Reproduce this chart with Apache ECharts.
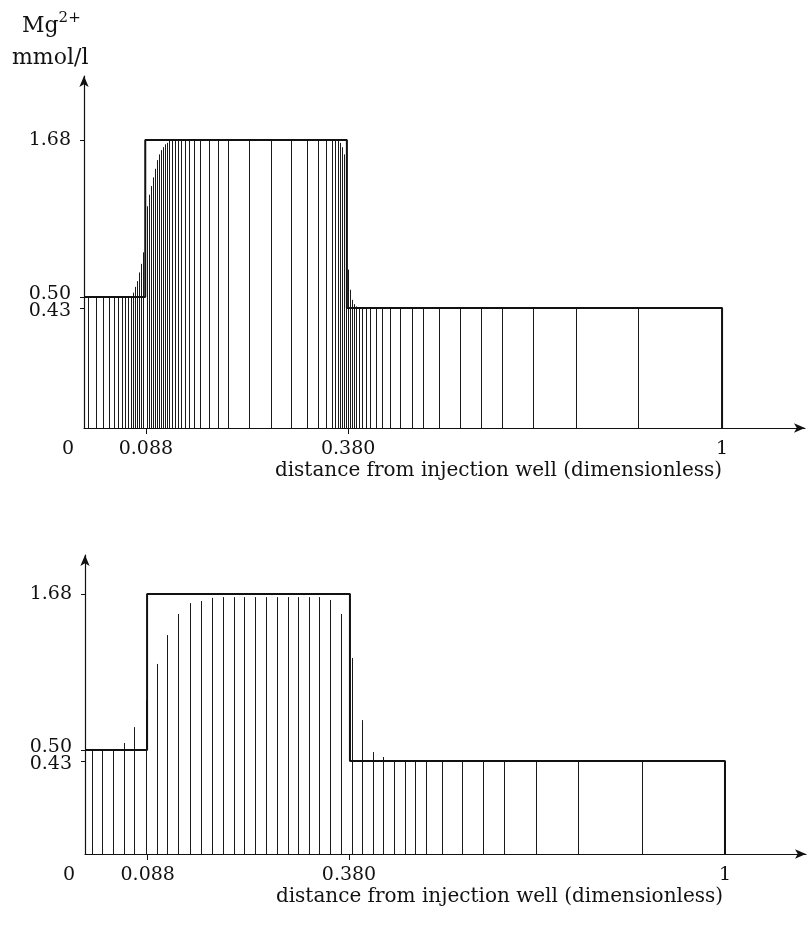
<!DOCTYPE html>
<html>
<head>
<meta charset="utf-8">
<script src="https://cdn.jsdelivr.net/npm/echarts@6/dist/echarts.min.js"></script>
<style>
  html, body { margin: 0; padding: 0; background: #fff; }
  #chart { width: 809px; height: 941px; }
</style>
</head>
<body>
<div id="chart"></div>
<script>
// node positions along the drawn axis (1 = the "1" tick) and node values
// (1 = the 1.68 level); the original axes are not to scale
var xTop = [0.006, 0.019, 0.030, 0.039, 0.047, 0.053, 0.060, 0.064, 0.069, 0.074,
  0.077, 0.080, 0.083, 0.086, 0.089, 0.092,
  0.099, 0.102, 0.105, 0.108, 0.111, 0.114, 0.118, 0.121, 0.124, 0.127, 0.130, 0.133,
  0.138, 0.143, 0.147, 0.152, 0.158, 0.165, 0.172, 0.182, 0.196, 0.210, 0.226, 0.259,
  0.293, 0.324, 0.350, 0.367, 0.379, 0.389, 0.393, 0.398,
  0.401, 0.404, 0.408, 0.411,
  0.414, 0.417, 0.420, 0.423, 0.426,
  0.431, 0.436, 0.442, 0.448, 0.458, 0.467, 0.480, 0.495, 0.514, 0.531, 0.556, 0.589,
  0.622, 0.655, 0.704, 0.771, 0.868, 1.0]
var yTop = [0.455, 0.455, 0.455, 0.455, 0.455, 0.455, 0.455, 0.455, 0.455, 0.455,
  0.47, 0.49, 0.51, 0.54, 0.57, 0.61,
  0.77, 0.81, 0.84, 0.87, 0.90, 0.93, 0.95, 0.965, 0.975, 0.985, 0.99, 0.997,
  1, 1, 1, 1, 1, 1, 1, 1, 1, 1, 1, 1,
  1, 1, 1, 1, 1, 1, 1, 1,
  0.99, 0.975, 0.95, 0.91,
  0.55, 0.48, 0.445, 0.43, 0.422,
  0.417, 0.417, 0.417, 0.417, 0.417, 0.417, 0.417, 0.417, 0.417, 0.417, 0.417, 0.417,
  0.417, 0.417, 0.417, 0.417, 0.417, 0.417]

var xBottom = [0.011, 0.027, 0.044, 0.061, 0.077, 0.095, 0.113, 0.128, 0.145, 0.164,
  0.181, 0.198, 0.216, 0.233, 0.248, 0.266, 0.283, 0.300, 0.317, 0.333,
  0.350, 0.366, 0.383, 0.400, 0.417, 0.433, 0.450, 0.466, 0.483, 0.500,
  0.516, 0.533, 0.558, 0.589, 0.622, 0.655, 0.705, 0.770, 0.870, 1.0]
var yBottom = [0.40, 0.40, 0.40, 0.427, 0.488, 0.592, 0.731, 0.842, 0.923, 0.965,
  0.973, 0.985, 0.988, 0.988, 0.988, 0.988, 0.988, 0.988, 0.988, 0.988,
  0.988, 0.988, 0.977, 0.923, 0.754, 0.515, 0.392, 0.373, 0.358, 0.358,
  0.358, 0.358, 0.358, 0.358, 0.358, 0.358, 0.358, 0.358, 0.358, 0.358]

// analytic step solution
var stepTopX = [0, 0.096, 0.096, 0.412, 0.412, 1, 1]
var stepTopY = [0.455, 0.455, 1, 1, 0.417, 0.417, 0]
var stepBottomX = [0, 0.097, 0.097, 0.414, 0.414, 1, 1]
var stepBottomY = [0.40, 0.40, 1, 1, 0.358, 0.358, 0]

// tick labels
var xTickTop = [0, 0.097, 0.414, 1]
var xTickBottom = [0, 0.098, 0.4125, 1]
var xTickLabels = ['0', '0.088', '0.380', '1']
var yTickTop = [0.417, 0.455, 1]
var yTickBottom = [0.358, 0.40, 1]
var yTickLabels = ['0.43', '0.50', '1.68']

var font = 'DejaVu Serif'
var ink = '#111'
var fs = 19

function pick(list, labels, v) {
  for (var i = 0; i < list.length; i++) {
    if (Math.abs(list[i] - v) < 1e-6) return labels[i]
  }
  return ''
}

function pairs(xs, ys) {
  return xs.map(function (x, i) { return [x, ys[i]] })
}

function needle(params, api) {
  var p0 = api.coord([api.value(0), 0])
  var p1 = api.coord([api.value(0), api.value(1)])
  var x = Math.round(p0[0]) + 0.5
  return {
    type: 'line',
    shape: { x1: x, y1: p0[1], x2: x, y2: p1[1] },
    style: { stroke: '#1a1a1a', lineWidth: 1 }
  }
}

function xAxisOf(idx, max, ticks) {
  return {
    type: 'value', gridIndex: idx, min: 0, max: max,
    name: 'distance from injection well (dimensionless)',
    nameLocation: 'middle', nameGap: 33,
    nameTextStyle: { fontFamily: font, fontSize: 20, color: ink, padding: [0, 0, 0, 108] },
    axisLine: { show: true, symbol: ['none', 'arrow'], symbolSize: [7, 11], lineStyle: { color: ink, width: 1.2 } },
    axisTick: { show: true, inside: false, length: 6, customValues: [ticks[1], ticks[2]], lineStyle: { color: ink } },
    axisLabel: {
      customValues: ticks, margin: 12, color: ink, fontFamily: font, fontSize: fs,
      hideOverlap: false,
      formatter: function (v) {
        var t = pick(ticks, xTickLabels, v)
        return t === '0' ? '{z|0}' : t
      },
      rich: { z: { fontFamily: font, fontSize: fs, color: ink, padding: [0, 32, 0, 0] } }
    },
    splitLine: { show: false }
  }
}

// main y axis: line, all ticks, labels 0.50 and 1.68
function yAxisOf(idx, max, ticks) {
  return {
    type: 'value', gridIndex: idx, min: 0, max: max, position: 'left',
    axisLine: { show: true, symbol: ['none', 'arrow'], symbolSize: [7, 11], lineStyle: { color: ink, width: 1.2 } },
    axisTick: { show: true, inside: false, length: 4, customValues: ticks, lineStyle: { color: ink } },
    axisLabel: {
      customValues: [ticks[1], ticks[2]], margin: 13, color: ink, fontFamily: font, fontSize: fs,
      hideOverlap: false,
      formatter: function (v) {
        var t = pick(ticks, yTickLabels, v)
        return t === '0.50' ? '{u|0.50}' : t
      },
      rich: { u: { fontFamily: font, fontSize: fs, color: ink, padding: [0, 0, 6, 0] } }
    },
    splitLine: { show: false }
  }
}

// companion y axis carrying only the 0.43 label (too close to 0.50 to share an axis)
function yAxisLow(idx, max, ticks) {
  return {
    type: 'value', gridIndex: idx, min: 0, max: max, position: 'left', offset: 0,
    axisLine: { show: false }, axisTick: { show: false },
    axisLabel: {
      customValues: [ticks[0]], margin: 13, color: ink, fontFamily: font, fontSize: fs,
      formatter: function (v) { return '{d|' + pick(ticks, yTickLabels, v) + '}' },
      rich: { d: { fontFamily: font, fontSize: fs, color: ink, padding: [7, 0, 0, 0] } }
    },
    splitLine: { show: false }
  }
}

var chart = echarts.init(document.getElementById('chart'))
chart.setOption({
  backgroundColor: '#fff',
  animation: false,
  grid: [
    { left: 84, top: 76, width: 721, height: 352, outerBoundsMode: 'none' },
    { left: 85, top: 555, width: 721, height: 299, outerBoundsMode: 'none' }
  ],
  xAxis: [xAxisOf(0, 1.130, xTickTop), xAxisOf(1, 1.1266, xTickBottom)],
  yAxis: [
    yAxisOf(0, 1.2222, yTickTop), yAxisOf(1, 1.15, yTickBottom),
    yAxisLow(0, 1.2222, yTickTop), yAxisLow(1, 1.15, yTickBottom)
  ],
  graphic: [
    {
      type: 'text', left: 22, top: 11,
      style: {
        text: '{a|Mg}{s|2+}',
        rich: {
          a: { fontFamily: font, fontSize: 22, fill: ink },
          s: { fontFamily: font, fontSize: 15, fill: ink, padding: [0, 0, 16, 0] }
        }
      }
    },
    { type: 'text', left: 12, top: 47, style: { text: 'mmol/l', fontFamily: font, fontSize: 22, fill: ink } }
  ],
  series: [
    { type: 'custom', xAxisIndex: 0, yAxisIndex: 0, renderItem: needle, data: pairs(xTop, yTop), silent: true },
    { type: 'custom', xAxisIndex: 1, yAxisIndex: 1, renderItem: needle, data: pairs(xBottom, yBottom), silent: true },
    {
      type: 'line', xAxisIndex: 0, yAxisIndex: 0, data: pairs(stepTopX, stepTopY),
      showSymbol: false, lineStyle: { color: ink, width: 2 }, silent: true
    },
    {
      type: 'line', xAxisIndex: 1, yAxisIndex: 1, data: pairs(stepBottomX, stepBottomY),
      showSymbol: false, lineStyle: { color: ink, width: 2 }, silent: true
    }
  ]
})
</script>
</body>
</html>
